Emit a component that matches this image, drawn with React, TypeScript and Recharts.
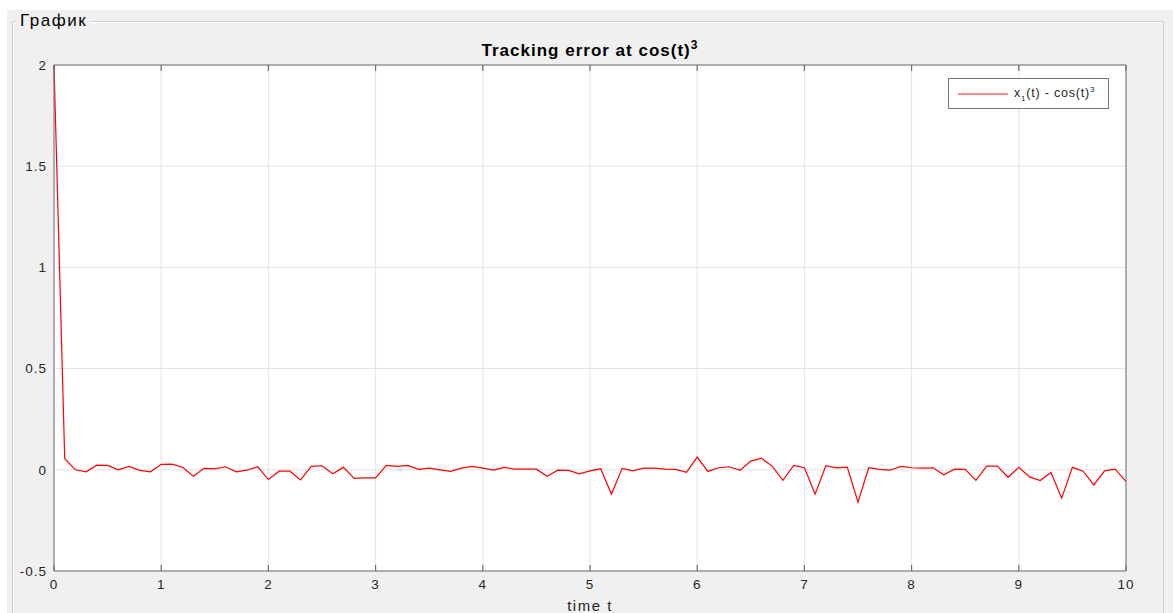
import { LineChart, Line, XAxis, YAxis, CartesianGrid, Legend } from "recharts";

// tracking error x1(t) - cos(t)^3, sampled every 0.1 s
const errorValues = [
  2, 0.055, 0.0, -0.01, 0.023, 0.022, 0.0, 0.017, -0.003, -0.01,
  0.027, 0.028, 0.013, -0.032, 0.007, 0.005, 0.015, -0.01, -0.002, 0.015,
  -0.048, -0.007, -0.007, -0.05, 0.017, 0.02, -0.02, 0.012, -0.042, -0.04,
  -0.04, 0.022, 0.017, 0.022, 0.002, 0.008, 0.0, -0.008, 0.008, 0.017,
  0.008, -0.002, 0.012, 0.003, 0.003, 0.003, -0.032, -0.002, -0.003, -0.02,
  -0.005, 0.005, -0.12, 0.007, -0.005, 0.008, 0.008, 0.003, 0.002, -0.013,
  0.063, -0.008, 0.01, 0.015, -0.002, 0.043, 0.057, 0.017, -0.052, 0.022,
  0.01, -0.12, 0.02, 0.01, 0.013, -0.16, 0.01, 0.002, -0.002, 0.017,
  0.01, 0.008, 0.01, -0.025, 0.003, 0.002, -0.052, 0.018, 0.018, -0.037,
  0.012, -0.035, -0.053, -0.013, -0.14, 0.012, -0.007, -0.075, -0.005, 0.003,
  -0.058,
];
const times = errorValues.map((_, i) => i / 10);
const xTicks = [0, 1, 2, 3, 4, 5, 6, 7, 8, 9, 10];
const yTicks = [-0.5, 0, 0.5, 1, 1.5, 2];

const data = times.map((t, i) => ({ t, err: errorValues[i] }));

const font = '"Liberation Sans", Arial, sans-serif';
const frame = "#6e6e6e";
const tickFont = { fontSize: 13.5, fill: "#262626", fontFamily: font, letterSpacing: 1 };
const noLabel = () => <g />;
const tickMark = { stroke: frame, strokeWidth: 1.2 };

function LegendBox() {
  return (
    <div
      style={{
        width: 159,
        height: 29,
        border: "1px solid #767676",
        background: "#fff",
        display: "flex",
        alignItems: "center",
        fontFamily: font,
        fontSize: 12.5,
        letterSpacing: 0.8,
        color: "#262626",
      }}
    >
      <svg width={65} height={10} style={{ flexShrink: 0 }}>
        <line x1={9} x2={59} y1={5} y2={5} stroke="#ff2020" strokeWidth={1.2} />
      </svg>
      <span style={{ whiteSpace: "nowrap" }}>
        x<sub style={{ fontSize: 8 }}>1</sub>(t) - cos(t)<sup style={{ fontSize: 8 }}>3</sup>
      </span>
    </div>
  );
}

export default function App() {
  return (
    <div style={{ position: "absolute", left: 0, top: 0, width: 1173, height: 613, background: "#fff", overflow: "hidden" }}>
      <div style={{ position: "absolute", left: 7, top: 10, width: 1166, height: 603, background: "#f0f0f0" }} />
      <div
        style={{
          position: "absolute",
          left: 12,
          top: 21,
          width: 1150,
          height: 592,
          border: "1px solid #cfcfcf",
          boxShadow: "inset 1px 1px 0 #fff",
        }}
      />
      <div
        style={{
          position: "absolute",
          left: 17,
          top: 11,
          padding: "0 3px",
          background: "#f0f0f0",
          fontFamily: font,
          fontSize: 17,
          letterSpacing: 1.5,
          color: "#000",
        }}
      >
        График
      </div>
      <div
        style={{
          position: "absolute",
          left: 54,
          width: 1072,
          top: 38,
          textAlign: "center",
          fontFamily: font,
          fontWeight: "bold",
          fontSize: 17,
          letterSpacing: 1,
          color: "#000",
        }}
      >
        Tracking error at cos(t)<sup style={{ fontSize: 12 }}>3</sup>
      </div>
      <div style={{ position: "absolute", left: 0, top: 0 }}>
        <LineChart width={1173} height={613} data={data} margin={{ top: 65, right: 47, bottom: 0, left: 0 }}>
          <CartesianGrid stroke="#e3e3e3" fill="#fff" />
          {/* inward tick marks on all four sides (matlab box) */}
          <XAxis xAxisId="bt" dataKey="t" type="number" domain={[0, 10]} ticks={xTicks} height={1} mirror axisLine={false} tickLine={tickMark} tickSize={6} tick={noLabel} />
          <XAxis
            dataKey="t"
            type="number"
            domain={[0, 10]}
            ticks={xTicks}
            height={42}
            stroke={frame}
            tickLine={false}
            tickSize={0}
            tickMargin={8}
            tick={tickFont}
            label={{ value: "time t", position: "insideBottom", offset: 2, style: { ...tickFont, fontSize: 15, letterSpacing: 1.5 } }}
          />
          <XAxis xAxisId="top" dataKey="t" type="number" orientation="top" domain={[0, 10]} ticks={xTicks} height={1} mirror stroke={frame} tickLine={tickMark} tickSize={6} tick={noLabel} />
          <YAxis yAxisId="lt" type="number" domain={[-0.5, 2]} ticks={yTicks} width={1} mirror axisLine={false} tickLine={tickMark} tickSize={6} tick={noLabel} />
          <YAxis
            type="number"
            domain={[-0.5, 2]}
            ticks={yTicks}
            width={54}
            stroke={frame}
            tickLine={false}
            tickSize={0}
            tickMargin={7}
            tick={tickFont}
          />
          <YAxis yAxisId="right" type="number" orientation="right" domain={[-0.5, 2]} ticks={yTicks} width={1} mirror stroke={frame} tickLine={tickMark} tickSize={6} tick={noLabel} />
          <Legend
            layout="horizontal"
            verticalAlign="middle"
            align="center"
            wrapperStyle={{ position: "absolute", top: 78, left: 948, width: 161 }}
            content={() => <LegendBox />}
          />
          <Line
            dataKey="err"
            name="x1(t) - cos(t)^3"
            type="linear"
            stroke="#ff0000"
            strokeWidth={1.2}
            dot={false}
            isAnimationActive={false}
          />
        </LineChart>
      </div>
    </div>
  );
}
